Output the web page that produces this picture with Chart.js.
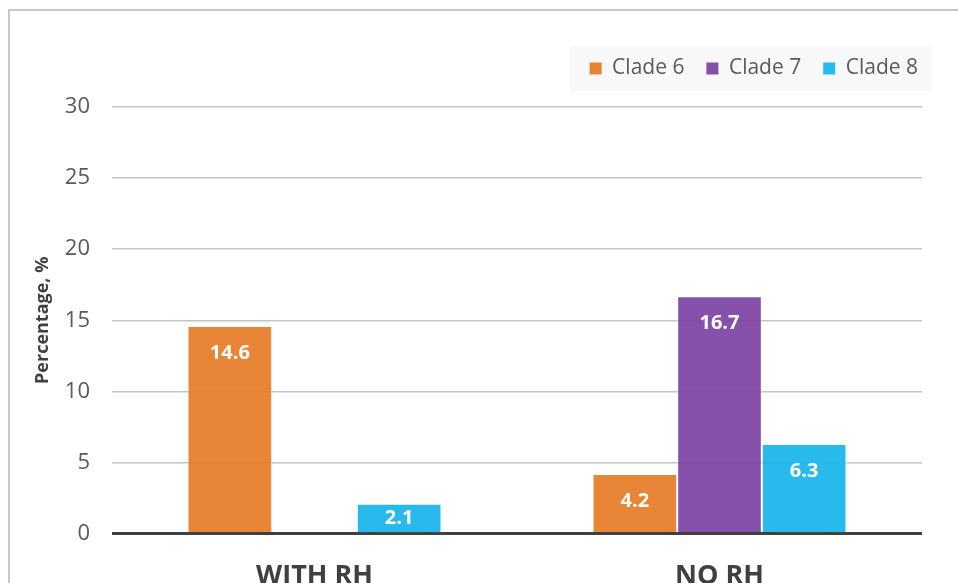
<!DOCTYPE html>
<html>
<head>
<meta charset="utf-8">
<script src="https://cdn.jsdelivr.net/npm/chart.js@4.4.1/dist/chart.umd.min.js"></script>
<style>
  html, body { margin: 0; padding: 0; background: #ffffff; overflow: hidden; width: 958px; height: 583px; }
  #frame { position: absolute; left: 8px; top: 9px; width: 960px; height: 640px; border-top: 2px solid #c8c8c8; border-left: 2px solid #c8c8c8; box-sizing: border-box; }
  #c { position: absolute; left: 0; top: 0; }
</style>
</head>
<body>
<div id="frame"></div>
<canvas id="c" width="958" height="631"></canvas>
<script>
const categories = ['WITH RH', 'NO RH'];
const seriesNames = ['Clade 6', 'Clade 7', 'Clade 8'];
const clade6 = [14.6, 4.2];
const clade7 = [null, 16.7];
const clade8 = [2.1, 6.3];
const yTicks = [0, 5, 10, 15, 20, 25, 30];
const yTitle = 'Percentage, %';

const colors = ['rgba(230,124,40,0.93)', 'rgba(124,68,164,0.93)', 'rgba(24,180,236,0.93)'];
const solid = ['#E8822E', '#844FA9', '#27BAEE'];
const FONT = "'Open Sans', 'Noto Sans', sans-serif";

const legendBg = {
  id: 'legendBg',
  beforeDraw(chart) {
    const lg = chart.legend;
    if (!lg || !lg.legendHitBoxes || !lg.legendHitBoxes.length) return;
    const hb = lg.legendHitBoxes;
    let minX = Infinity, maxX = -Infinity, cy = 0;
    hb.forEach(b => { minX = Math.min(minX, b.left); maxX = Math.max(maxX, b.left + b.width); cy = b.top + b.height / 2; });
    const ctx = chart.ctx;
    ctx.save();
    ctx.fillStyle = '#f8f8f8';
    ctx.fillRect(minX - 20, cy - 22, (maxX - minX) + 34, 44);
    ctx.restore();
  }
};

const dataLabels = {
  id: 'dataLabels',
  afterDatasetsDraw(chart) {
    const ctx = chart.ctx;
    ctx.save();
    ctx.fillStyle = '#ffffff';
    ctx.font = "bold 20px " + FONT;
    ctx.textAlign = 'center';
    ctx.textBaseline = 'middle';
    chart.data.datasets.forEach((ds, i) => {
      const meta = chart.getDatasetMeta(i);
      meta.data.forEach((el, j) => {
        const v = ds.data[j];
        if (v === null || v === undefined) return;
        const h = el.base - el.y;
        const off = Math.min(27, h / 2);
        ctx.fillText(v.toFixed(1), el.x, el.y + off);
      });
    });
    ctx.restore();
  }
};

new Chart(document.getElementById('c'), {
  type: 'bar',
  data: {
    labels: categories,
    datasets: [
      { label: seriesNames[0], data: clade6, backgroundColor: colors[0], borderColor: 'rgba(255,255,255,0.45)', borderWidth: 1 },
      { label: seriesNames[1], data: clade7, backgroundColor: colors[1], borderColor: 'rgba(255,255,255,0.45)', borderWidth: 1 },
      { label: seriesNames[2], data: clade8, backgroundColor: colors[2], borderColor: 'rgba(255,255,255,0.45)', borderWidth: 1 }
    ]
  },
  options: {
    responsive: false,
    animation: false,
    layout: { padding: { left: 28, right: 18, top: 36, bottom: 11 } },
    datasets: { bar: { categoryPercentage: 0.627, barPercentage: 1.0 } },
    plugins: {
      legend: {
        position: 'top',
        align: 'end',
        labels: {
          boxWidth: 12, boxHeight: 12, padding: 22,
          color: '#595959',
          font: { family: FONT, size: 21 },
          generateLabels(chart) {
            return chart.data.datasets.map((ds, i) => ({
              text: ds.label, fillStyle: solid[i], strokeStyle: solid[i], lineWidth: 0,
              hidden: false, datasetIndex: i, fontColor: '#595959'
            }));
          }
        }
      },
      title: {
        display: true, text: ' ', weight: 500,
        font: { size: 10 }, padding: { top: 0, bottom: 6 }
      },
      subtitle: {
        display: true, text: ' ', position: 'right', fullSize: false,
        font: { size: 10 }, padding: { top: 0, bottom: 6 }
      },
      tooltip: { enabled: false }
    },
    scales: {
      x: {
        grid: { display: false, drawTicks: false },
        border: { display: false },
        ticks: { color: '#404040', font: { family: FONT, size: 27, weight: 'bold' }, padding: 27 }
      },
      y: {
        min: yTicks[0], max: yTicks[yTicks.length - 1],
        afterFit(scale) { scale.width = 84; },
        afterBuildTicks(scale) { scale.ticks = yTicks.map(v => ({ value: v })); },
        grid: {
          drawTicks: false,
          color: ctx => (ctx.tick && ctx.tick.value === 0) ? '#404040' : '#c4c4c4',
          lineWidth: ctx => (ctx.tick && ctx.tick.value === 0) ? 3 : 1.5
        },
        border: { display: false },
        ticks: { color: '#595959', font: { family: FONT, size: 22 }, padding: 22 },
        title: {
          display: true, text: yTitle, color: '#404040',
          font: { family: FONT, size: 18, weight: 'bold' }, padding: { top: 4, bottom: 4 }
        }
      }
    }
  },
  plugins: [legendBg, dataLabels]
});
</script>
</body>
</html>
